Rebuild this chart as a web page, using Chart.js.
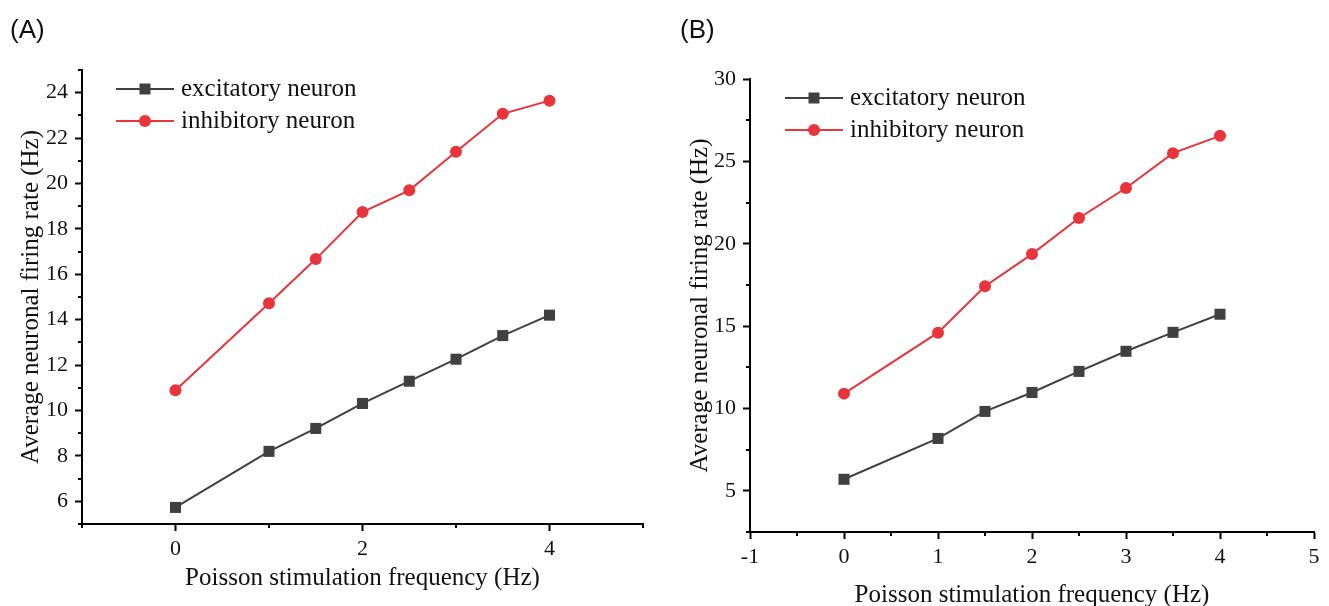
<!DOCTYPE html>
<html>
<head>
<meta charset="utf-8">
<script src="https://cdn.jsdelivr.net/npm/chart.js@4.4.1/dist/chart.umd.min.js"></script>
<style>
  html, body { margin: 0; padding: 0; background: #fff; overflow: hidden; width: 1329px; height: 606px; }
  .panel { position: absolute; top: 0; }
  .tag { position: absolute; font-family: "Liberation Sans", Arial, sans-serif; font-size: 26px; line-height: 26px; color: #111; }
</style>
</head>
<body>
<div class="panel" style="left:0;width:660px;height:606px"><canvas id="chartA" width="660" height="606"></canvas></div>
<div class="panel" style="left:665px;width:664px;height:620px"><canvas id="chartB" width="664" height="620"></canvas></div>
<div class="tag" style="left:10px;top:16px">(A)</div>
<div class="tag" style="left:680px;top:16px">(B)</div>
<script>
// stimulation frequency (Hz)
const freq = [0, 1, 1.5, 2, 2.5, 3, 3.5, 4];

// panel A
const excA = [5.73, 8.2, 9.21, 10.31, 11.29, 12.26, 13.3, 14.2];
const inhA = [10.89, 14.72, 16.67, 18.74, 19.7, 21.4, 23.07, 23.65];

// panel B
const excB = [5.7, 8.18, 9.82, 10.97, 12.25, 13.47, 14.62, 15.72];
const inhB = [10.9, 14.6, 17.42, 19.37, 21.56, 23.38, 25.5, 26.55];

const labels = ['excitatory neuron', 'inhibitory neuron'];
const grey = '#404040';
const red = '#e8343a';
const serif = '"Liberation Serif", "Times New Roman", serif';

// per-canvas settings the plugins read (kept out of chart options so they aren't resolved as scriptables)
const extra = {};

function pts(ys) {
  return freq.map((x, i) => ({x: x, y: ys[i]}));
}

// short ticks for the minor steps, long ones come from chart.js
const minorTicks = {
  id: 'minorTicks',
  afterDraw(chart) {
    const ctx = chart.ctx;
    const area = chart.chartArea;
    const cfg = extra[chart.canvas.id];
    ctx.save();
    ctx.strokeStyle = '#000';
    ctx.lineWidth = 2;
    chart.scales.x.ticks.forEach(t => {
      if (cfg.xMajor(t.value)) return;
      const px = Math.round(chart.scales.x.getPixelForValue(t.value));
      ctx.beginPath();
      ctx.moveTo(px, area.bottom);
      ctx.lineTo(px, area.bottom + 4);
      ctx.stroke();
    });
    chart.scales.y.ticks.forEach(t => {
      if (cfg.yMajor(t.value)) return;
      const py = Math.round(chart.scales.y.getPixelForValue(t.value));
      ctx.beginPath();
      ctx.moveTo(area.left - 4, py);
      ctx.lineTo(area.left, py);
      ctx.stroke();
    });
    ctx.restore();
  }
};

// legend inside the plot, origin style
const innerLegend = {
  id: 'innerLegend',
  afterDraw(chart) {
    const ctx = chart.ctx;
    const cfg = extra[chart.canvas.id].legend;
    ctx.save();
    chart.data.datasets.forEach((ds, i) => {
      const y = cfg.y + i * cfg.gap;
      ctx.strokeStyle = ds.borderColor;
      ctx.lineWidth = 2;
      ctx.beginPath();
      ctx.moveTo(cfg.x, y);
      ctx.lineTo(cfg.x + 58, y);
      ctx.stroke();
      ctx.fillStyle = ds.pointBackgroundColor;
      ctx.beginPath();
      if (ds.pointStyle === 'rect') {
        ctx.rect(cfg.x + 29 - 5.5, y - 5.5, 11, 11);
      } else {
        ctx.arc(cfg.x + 29, y, 6, 0, Math.PI * 2);
      }
      ctx.fill();
      ctx.fillStyle = '#111';
      ctx.font = '25px ' + serif;
      ctx.textBaseline = 'middle';
      ctx.fillText(ds.label, cfg.x + 65, y);
    });
    ctx.restore();
  }
};

function makeChart(el, exc, inh, o) {
  extra[el] = o;
  return new Chart(document.getElementById(el), {
    type: 'line',
    data: {
      datasets: [{
        label: labels[0],
        data: pts(exc),
        borderColor: grey,
        backgroundColor: grey,
        pointBackgroundColor: grey,
        pointBorderWidth: 0,
        pointStyle: 'rect',
        pointRadius: 7.8,
        borderWidth: 2
      }, {
        label: labels[1],
        data: pts(inh),
        borderColor: red,
        backgroundColor: red,
        pointBackgroundColor: red,
        pointBorderWidth: 0,
        pointStyle: 'circle',
        pointRadius: 6,
        borderWidth: 2
      }]
    },
    options: {
      responsive: false,
      animation: false,
      layout: { padding: o.padding },
      plugins: {
        legend: { display: false },
        tooltip: { enabled: false }
      },
      scales: {
        x: {
          type: 'linear',
          min: -1, max: 5,
          afterFit: s => { s.height = o.xHeight; },
          border: { display: true, color: '#000', width: 2 },
          grid: {
            drawOnChartArea: false, drawTicks: true, tickLength: 7, tickWidth: 2,
            tickColor: c => (c.tick && o.xMajor(c.tick.value)) ? '#000' : 'rgba(0,0,0,0)'
          },
          ticks: {
            stepSize: o.xStep, padding: 5, color: '#111', maxRotation: 0, autoSkip: false,
            font: { family: serif, size: 22 },
            callback: v => o.xLabel(v)
          },
          title: { display: true, text: 'Poisson stimulation frequency (Hz)', color: '#111', font: { family: serif, size: 25 } }
        },
        y: {
          min: o.yMin, max: o.yMax,
          afterFit: s => { s.width = o.yWidth; },
          border: { display: true, color: '#000', width: 2 },
          grid: {
            drawOnChartArea: false, drawTicks: true, tickLength: 7, tickWidth: 2,
            tickColor: c => (c.tick && o.yMajor(c.tick.value)) ? '#000' : 'rgba(0,0,0,0)'
          },
          ticks: {
            stepSize: o.yStep, padding: 7, color: '#111', autoSkip: false,
            font: { family: serif, size: 22 },
            callback: v => o.yMajor(v) ? String(v) : ''
          },
          title: { display: true, text: 'Average neuronal firing rate (Hz)', color: '#111', font: { family: serif, size: 25 } }
        }
      }
    },
    plugins: [minorTicks, innerLegend]
  });
}

const even = v => Math.abs(v % 2) < 1e-6;
const whole = v => Math.abs(v % 1) < 1e-6;
const fives = v => Math.abs(v % 5) < 1e-6;

makeChart('chartA', excA, inhA, {
  padding: { left: 12, right: 17, top: 70, bottom: 9 },
  xHeight: 73, yWidth: 70,
  xStep: 1, yStep: 1, yMin: 5, yMax: 25,
  xMajor: v => even(v) && v >= 0 && v <= 4,
  xLabel: v => (even(v) && v >= 0 && v <= 4) ? String(v) : '',
  yMajor: v => even(v),
  legend: { x: 116, y: 89, gap: 32 }
});

makeChart('chartB', excB, inhB, {
  padding: { left: 16, right: 15, top: 79, bottom: 6 },
  xHeight: 82, yWidth: 69,
  xStep: 0.5, yStep: 2.5, yMin: 2.5, yMax: 30,
  xMajor: v => whole(v),
  xLabel: v => whole(v) ? String(v) : '',
  yMajor: v => fives(v),
  legend: { x: 120, y: 98, gap: 32 }
});
</script>
</body>
</html>
